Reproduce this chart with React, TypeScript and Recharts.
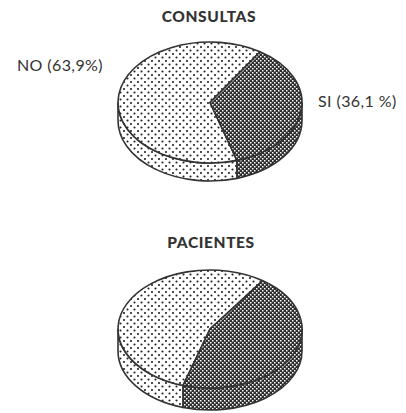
import React from 'react';
import { PieChart, Pie, Cell } from 'recharts';

const categories = ['NO', 'SI'];
const consultasValues = [63.9, 36.1];
const pacientesValues = [55, 45];
const consultasLabels = ['NO (63,9%)', 'SI (36,1 %)'];
const titles = ['CONSULTAS', 'PACIENTES'];

const consultasData = categories.map((name, i) => ({ name, value: consultasValues[i] }));
const pacientesData = categories.map((name, i) => ({ name, value: pacientesValues[i] }));

const fills = ['url(#dotPattern)', 'url(#checkPattern)'];
const STROKE = '#333';

function pt(cx: number, cy: number, rx: number, ry: number, a: number) {
  const r = (a * Math.PI) / 180;
  return [cx + rx * Math.cos(r), cy - ry * Math.sin(r)];
}

function makeShape(ratio: number, thick: number) {
  return (props: any) => {
    const { cx, cy, outerRadius, fill } = props;
    const s = Math.min(props.startAngle, props.endAngle);
    const e = Math.max(props.startAngle, props.endAngle);
    const rx = outerRadius;
    const ry = outerRadius * ratio;
    const [sx, sy] = pt(cx, cy, rx, ry, s);
    const [ex, ey] = pt(cx, cy, rx, ry, e);
    const large = e - s > 180 ? 1 : 0;
    const top = `M${cx},${cy} L${sx},${sy} A${rx},${ry} 0 ${large} 0 ${ex},${ey} Z`;
    const sides: string[] = [];
    const ranges = [[180, 360], [540, 720], [-180, 0]];
    for (const [lo, hi] of ranges) {
      const a = Math.max(lo, s);
      const b = Math.min(hi, e);
      if (b - a > 0.01) {
        const [ax, ay] = pt(cx, cy, rx, ry, a);
        const [bx, by] = pt(cx, cy, rx, ry, b);
        sides.push(
          `M${ax},${ay} A${rx},${ry} 0 0 0 ${bx},${by} L${bx},${by + thick} A${rx},${ry} 0 0 1 ${ax},${ay + thick} Z`
        );
      }
    }
    return (
      <g>
        {sides.map((d, i) => (
          <path key={i} d={d} fill={fill} stroke={STROKE} strokeWidth={1.6} strokeLinejoin="round" />
        ))}
        <path d={top} fill={fill} stroke={STROKE} strokeWidth={1.6} strokeLinejoin="round" />
      </g>
    );
  };
}

const shapeTop = makeShape(60.5 / 92, 18);
const shapeBottom = makeShape(59 / 92, 22);

const textStyle: React.CSSProperties = {
  position: 'absolute',
  fontFamily: 'Lato, "DejaVu Sans", sans-serif',
  color: '#333',
  whiteSpace: 'nowrap',
  lineHeight: 1,
};

export default function App() {
  return (
    <div style={{ position: 'absolute', left: 0, top: 0, width: 406, height: 413, background: '#fff', overflow: 'hidden' }}>
      <svg width={0} height={0} style={{ position: 'absolute' }}>
        <defs>
          <pattern id="dotPattern" patternUnits="userSpaceOnUse" width={7} height={7}>
            <rect width={7} height={7} fill="#fff" />
            <circle cx={1.5} cy={1.5} r={1.05} fill="#222" />
            <circle cx={5} cy={5} r={1.05} fill="#222" />
          </pattern>
          <pattern id="checkPattern" patternUnits="userSpaceOnUse" width={4} height={4}>
            <rect width={4} height={4} fill="#2e2e2e" />
            <rect x={0} y={0} width={1.5} height={1.5} fill="#fff" />
            <rect x={2} y={2} width={1.5} height={1.5} fill="#fff" />
          </pattern>
        </defs>
      </svg>
      <PieChart width={406} height={413} margin={{ top: 0, right: 0, bottom: 0, left: 0 }}>
        <Pie
          data={consultasData}
          dataKey="value"
          nameKey="name"
          cx={210}
          cy={102.5}
          outerRadius={92}
          startAngle={57}
          endAngle={417}
          isAnimationActive={false}
          shape={shapeTop}
          activeShape={shapeTop}
          inactiveShape={shapeTop}
          legendType="none"
        >
          {consultasData.map((d, i) => (
            <Cell key={d.name} fill={fills[i]} />
          ))}
        </Pie>
        <Pie
          data={pacientesData}
          dataKey="value"
          nameKey="name"
          cx={210}
          cy={329}
          outerRadius={92}
          startAngle={55}
          endAngle={415}
          isAnimationActive={false}
          shape={shapeBottom}
          activeShape={shapeBottom}
          inactiveShape={shapeBottom}
          legendType="none"
        >
          {pacientesData.map((d, i) => (
            <Cell key={d.name} fill={fills[i]} />
          ))}
        </Pie>
      </PieChart>
      <div style={{ ...textStyle, left: 0, width: 418, top: 9, textAlign: 'center', fontWeight: 900, fontSize: 15.5, letterSpacing: 0.6 }}>
        {titles[0]}
      </div>
      <div style={{ ...textStyle, left: 0, width: 422, top: 235, textAlign: 'center', fontWeight: 900, fontSize: 15.5, letterSpacing: 0.6 }}>
        {titles[1]}
      </div>
      <div style={{ ...textStyle, left: 17, top: 57, fontSize: 16, letterSpacing: 0.4 }}>{consultasLabels[0]}</div>
      <div style={{ ...textStyle, left: 318, top: 93, fontSize: 16, letterSpacing: 0.4 }}>{consultasLabels[1]}</div>
    </div>
  );
}
